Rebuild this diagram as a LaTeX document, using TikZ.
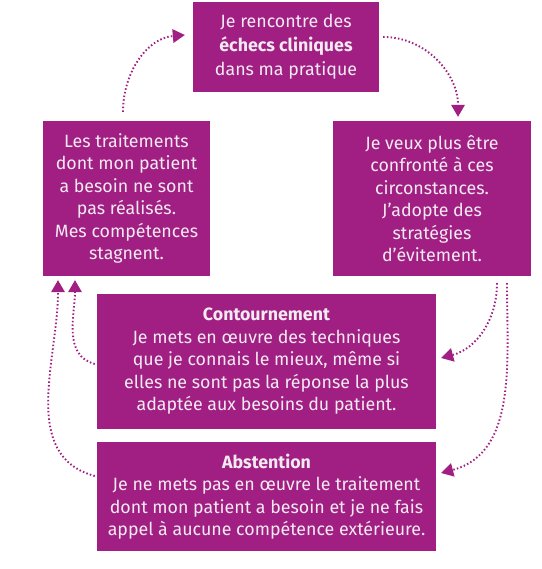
\documentclass[tikz,border=0pt]{standalone}
\usepackage{fontspec}
\setmainfont{Fira Sans}
\usetikzlibrary{arrows.meta}
\definecolor{plum}{RGB}{161,31,131}
\definecolor{txt}{RGB}{244,234,242}
\tikzset{
  box/.style={fill=plum, draw=none, inner sep=0pt, align=center, text=txt,
    font=\fontsize{17.8}{22.5}\selectfont},
  conn/.style={draw=plum, line width=1.9pt, dash pattern=on 1.5pt off 2.2pt,
    -{Triangle[width=14pt,length=12pt,fill=plum,line width=0pt,sep=0pt]}}
}
\begin{document}
\begin{tikzpicture}[x=1pt,y=1pt]
\useasboundingbox (0,0) rectangle (541,569);
\node[box, minimum width=186pt, minimum height=90pt, font=\fontsize{17.8}{24}\selectfont] (T) at (286,522)
  {Je rencontre des\\\textbf{échecs cliniques}\\dans ma pratique};
\node[box, minimum width=167pt, minimum height=155pt] (L) at (126.5,370.5)
  {Les traitements\\dont mon patient\\a besoin ne sont\\pas réalisés.\\Mes compétences\\stagnent.};
\node[box, minimum width=198pt, minimum height=155pt] (R) at (432,370.5)
  {Je veux plus être\\confronté à ces\\circonstances.\\J’adopte des\\stratégies\\d’évitement.};
\node[box, minimum width=339pt, minimum height=135pt] (C) at (266.5,207.5)
  {\textbf{Contournement}\\Je mets en œuvre des techniques\\que je connais le mieux, même si\\elles ne sont pas la réponse la plus\\adaptée aux besoins du patient.};
\node[box, minimum width=339pt, minimum height=109pt] (A) at (266.5,72.5)
  {\textbf{Abstention}\\Je ne mets pas en œuvre le traitement\\dont mon patient a besoin et je ne fais\\appel à aucune compétence extérieure.};
\coordinate (s1) at ([shift={(-3.5,9)}]L.north);
\coordinate (e1) at ([shift={(-8,12)}]T.west);
\coordinate (s2) at ([shift={(4,10)}]T.east);
\coordinate (e2) at ([shift={(26,4)}]R.north);
\coordinate (s3) at ([shift={(65,-7)}]R.south);
\coordinate (e3) at ([shift={(5,3.5)}]C.east);
\coordinate (s4) at ([shift={(75,-7)}]R.south);
\coordinate (e4) at ([shift={(5,23.5)}]A.east);
\coordinate (s5) at ([shift={(-2,-2.5)}]C.west);
\coordinate (e5) at ([shift={(-51.5,-4)}]L.south);
\coordinate (s6) at ([shift={(-2,20.5)}]A.west);
\coordinate (e6) at ([shift={(-68.5,-4)}]L.south);
\draw[conn] (s1) to[out=90,in=185] (e1);
\draw[conn] (s2) to[out=0,in=90] (e2);
\draw[conn] (s3) to[out=-90,in=15] (e3);
\draw[conn] (s4) to[out=-90,in=15] (e4);
\draw[conn] (s5) to[out=165,in=-90] (e5);
\draw[conn] (s6) to[out=165,in=-90] (e6);
\end{tikzpicture}
\end{document}
